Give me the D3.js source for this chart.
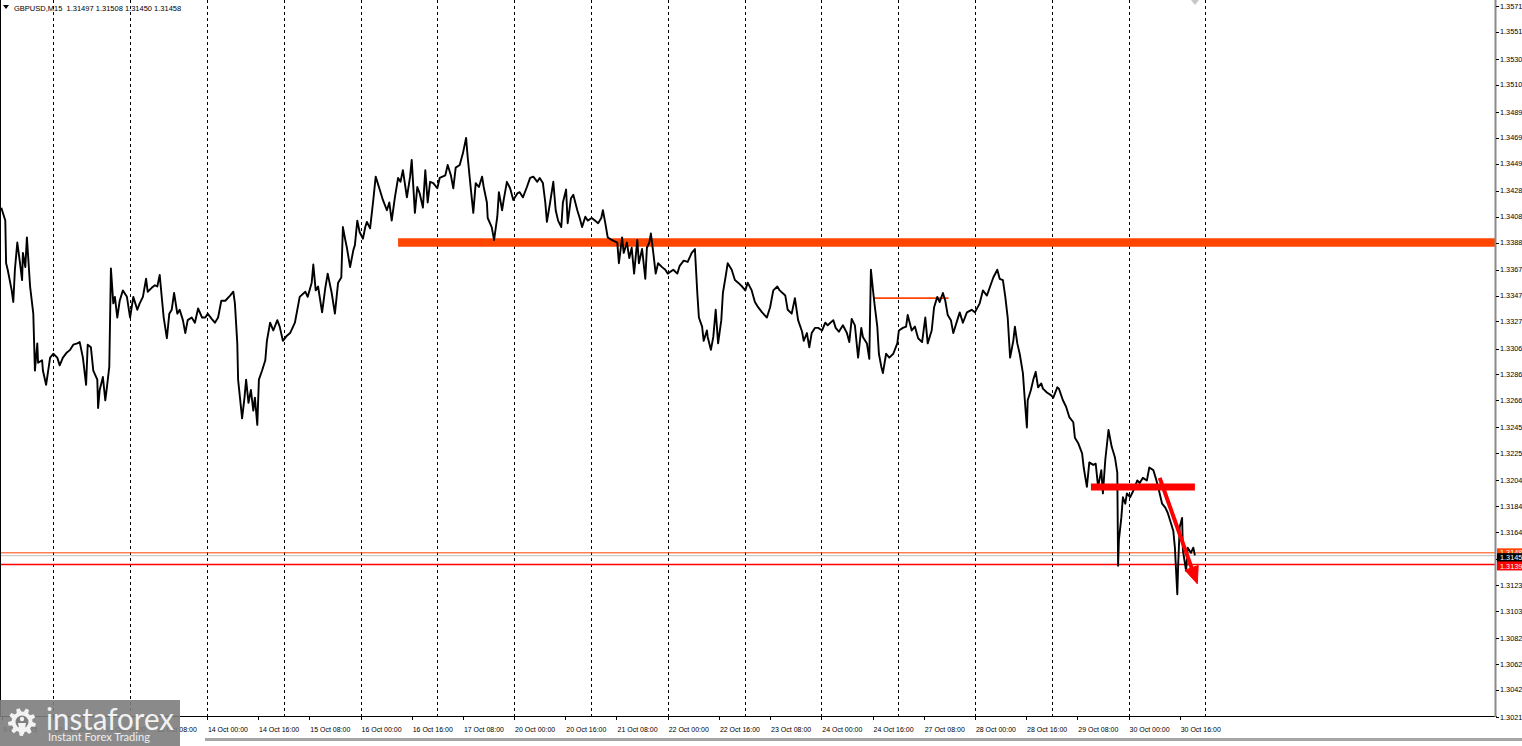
<!DOCTYPE html>
<html><head><meta charset="utf-8">
<script src="https://cdn.jsdelivr.net/npm/d3@7"></script>
<style>
html,body{margin:0;padding:0;background:#fff;overflow:hidden}
svg{display:block;font-family:"Liberation Sans",Arial,sans-serif}
</style>
</head><body>
<svg id="chart" width="1522" height="746"></svg>
<script>
// ---------- DATA ----------
const headerText = "GBPUSD,M15  1.31497 1.31508 1.31450 1.31458";

const yTickLabels = ["1.3571","1.3551","1.3530","1.3510","1.3489","1.3469","1.3449","1.3428","1.3408","1.3388",
  "1.3367","1.3347","1.3327","1.3306","1.3286","1.3266","1.3245","1.3225","1.3204","1.3184",
  "1.3164","1.3143","1.3123","1.3103","1.3082","1.3062","1.3042","1.3021"];

const xTickBars = [2,66,130,194,258,322,386,450,514,578,642,706,770,834,898,962,1026,1090,1154,1218,1282,1346,1410,1474];
const xTickLabels = ["9 Oct 2025","10 Oct 00:00","10 Oct 16:00","13 Oct 08:00","14 Oct 00:00","14 Oct 16:00",
  "15 Oct 08:00","16 Oct 00:00","16 Oct 16:00","17 Oct 08:00","20 Oct 00:00","20 Oct 16:00","21 Oct 08:00",
  "22 Oct 00:00","22 Oct 16:00","23 Oct 08:00","24 Oct 00:00","24 Oct 16:00","27 Oct 08:00","28 Oct 00:00",
  "28 Oct 16:00","29 Oct 08:00","30 Oct 00:00","30 Oct 16:00"];

const dayBoundaryBars = [66,162,258,354,450,546,642,738,834,930,1026,1122,1218,1314,1410,1506];

// [M15 bar index, close price]
const closeSeries = [
[1,1.3415],[6,1.3405],[7,1.3372],[9,1.3367],[14,1.3351],[16,1.3342],[18,1.3367],[21,1.3388],[24,1.3374],[27,1.3359],
[28,1.3380],[31,1.3369],[33,1.3392],[37,1.3354],[41,1.3333],[43,1.3289],[46,1.3310],[47,1.3295],[52,1.3297],[53,1.3289],
[57,1.3278],[62,1.3299],[66,1.3302],[71,1.3299],[74,1.3293],[78,1.3299],[83,1.3303],[87,1.3305],[91,1.3309],[96,1.3310],
[99,1.3311],[103,1.3299],[107,1.3278],[109,1.3309],[113,1.3307],[116,1.3289],[121,1.3282],[122,1.3260],[124,1.3274],[128,1.3284],
[131,1.3266],[133,1.3276],[136,1.3292],[138,1.3368],[141,1.3341],[143,1.3346],[146,1.3330],[149,1.3343],[153,1.3351],[158,1.3346],
[162,1.3330],[166,1.3346],[171,1.3336],[174,1.3341],[178,1.3346],[182,1.3360],[184,1.3350],[189,1.3353],[193,1.3355],[196,1.3354],
[199,1.3363],[202,1.3343],[204,1.3330],[208,1.3314],[211,1.3333],[214,1.3336],[217,1.3349],[221,1.3333],[224,1.3336],[228,1.3328],
[231,1.3318],[234,1.3328],[239,1.3330],[243,1.3326],[247,1.3337],[252,1.3330],[256,1.3330],[259,1.3333],[264,1.3329],[268,1.3326],
[272,1.3330],[276,1.3343],[281,1.3343],[287,1.3347],[291,1.3350],[293,1.3341],[296,1.3310],[297,1.3282],[302,1.3252],[305,1.3268],
[307,1.3282],[310,1.3264],[313,1.3274],[316,1.3258],[318,1.3268],[321,1.3247],[323,1.3282],[327,1.3289],[331,1.3297],[333,1.3312],
[337,1.3326],[341,1.3320],[346,1.3328],[349,1.3323],[353,1.3312],[358,1.3316],[362,1.3318],[368,1.3326],[374,1.3346],[381,1.3350],
[384,1.3346],[389,1.3357],[391,1.3371],[394,1.3351],[397,1.3354],[402,1.3334],[406,1.3353],[409,1.3364],[414,1.3349],[418,1.3333],
[422,1.3357],[426,1.3361],[428,1.3400],[431,1.3390],[433,1.3384],[437,1.3369],[441,1.3382],[443,1.3386],[446,1.3405],[449,1.3396],
[453,1.3391],[456,1.3400],[458,1.3404],[462,1.3399],[466,1.3421],[469,1.3439],[474,1.3429],[478,1.3421],[483,1.3413],[486,1.3419],
[489,1.3405],[493,1.3423],[497,1.3438],[500,1.3435],[503,1.3444],[508,1.3423],[512,1.3439],[514,1.3452],[518,1.3411],[521,1.3431],
[524,1.3426],[528,1.3415],[531,1.3444],[534,1.3419],[537,1.3435],[541,1.3434],[546,1.3430],[549,1.3438],[556,1.3440],[559,1.3448],
[563,1.3440],[566,1.3430],[569,1.3446],[574,1.3448],[578,1.3457],[582,1.3469],[584,1.3454],[588,1.3429],[591,1.3411],[594,1.3434],
[598,1.3431],[602,1.3439],[604,1.3431],[608,1.3419],[609,1.3407],[614,1.3400],[617,1.3390],[621,1.3408],[623,1.3427],[627,1.3413],
[629,1.3421],[633,1.3435],[637,1.3430],[641,1.3421],[646,1.3426],[649,1.3427],[653,1.3423],[658,1.3431],[662,1.3438],[666,1.3439],
[671,1.3435],[674,1.3438],[678,1.3434],[681,1.3419],[683,1.3404],[687,1.3419],[691,1.3435],[694,1.3413],[697,1.3405],[701,1.3400],
[703,1.3419],[707,1.3429],[709,1.3403],[713,1.3422],[716,1.3425],[721,1.3413],[724,1.3407],[727,1.3400],[731,1.3408],[734,1.3405],
[739,1.3407],[743,1.3405],[747,1.3403],[751,1.3407],[753,1.3413],[756,1.3403],[759,1.3392],[764,1.3390],[771,1.3388],[773,1.3372],
[777,1.3392],[779,1.3380],[783,1.3388],[786,1.3376],[789,1.3384],[792,1.3364],[796,1.3390],[798,1.3372],[802,1.3383],[806,1.3360],
[808,1.3384],[811,1.3388],[813,1.3395],[816,1.3380],[819,1.3364],[822,1.3372],[827,1.3369],[831,1.3367],[834,1.3364],[841,1.3367],
[846,1.3364],[849,1.3370],[854,1.3374],[859,1.3373],[864,1.3380],[868,1.3383],[871,1.3349],[873,1.3330],[877,1.3323],[879,1.3312],
[883,1.3320],[884,1.3315],[888,1.3305],[891,1.3315],[894,1.3336],[897,1.3310],[901,1.3328],[903,1.3349],[907,1.3364],[909,1.3372],
[914,1.3367],[918,1.3359],[922,1.3357],[927,1.3354],[931,1.3351],[934,1.3357],[939,1.3351],[943,1.3342],[947,1.3338],[952,1.3334],
[958,1.3330],[962,1.3338],[966,1.3351],[971,1.3354],[974,1.3351],[981,1.3347],[984,1.3336],[989,1.3333],[993,1.3345],[997,1.3328],
[1002,1.3319],[1004,1.3312],[1008,1.3318],[1011,1.3307],[1014,1.3318],[1018,1.3322],[1022,1.3322],[1027,1.3320],[1031,1.3326],[1034,1.3324],
[1041,1.3328],[1044,1.3322],[1048,1.3319],[1053,1.3324],[1058,1.3318],[1061,1.3311],[1064,1.3329],[1068,1.3324],[1072,1.3299],[1076,1.3322],
[1078,1.3315],[1083,1.3310],[1086,1.3298],[1088,1.3367],[1091,1.3349],[1093,1.3338],[1096,1.3323],[1098,1.3302],[1101,1.3292],[1103,1.3287],
[1107,1.3302],[1111,1.3299],[1116,1.3302],[1121,1.3310],[1123,1.3320],[1128,1.3322],[1132,1.3323],[1134,1.3332],[1139,1.3320],[1143,1.3323],
[1147,1.3314],[1152,1.3311],[1156,1.3330],[1159,1.3310],[1164,1.3320],[1167,1.3338],[1171,1.3346],[1174,1.3342],[1178,1.3349],[1181,1.3343],
[1184,1.3332],[1188,1.3328],[1191,1.3318],[1196,1.3328],[1199,1.3334],[1203,1.3326],[1208,1.3334],[1214,1.3336],[1218,1.3334],[1224,1.3341],
[1228,1.3351],[1233,1.3347],[1237,1.3354],[1241,1.3361],[1246,1.3367],[1249,1.3360],[1253,1.3359],[1256,1.3346],[1259,1.3330],[1262,1.3299],
[1266,1.3312],[1268,1.3323],[1271,1.3310],[1274,1.3302],[1278,1.3287],[1281,1.3261],[1283,1.3245],[1284,1.3266],[1288,1.3274],[1291,1.3282],
[1294,1.3288],[1297,1.3276],[1301,1.3279],[1303,1.3275],[1308,1.3272],[1313,1.3270],[1316,1.3268],[1321,1.3276],[1323,1.3275],[1328,1.3266],
[1332,1.3261],[1336,1.3253],[1341,1.3249],[1343,1.3237],[1347,1.3233],[1352,1.3225],[1354,1.3214],[1358,1.3199],[1361,1.3218],[1366,1.3216],
[1369,1.3217],[1372,1.3199],[1376,1.3212],[1378,1.3194],[1381,1.3220],[1385,1.3243],[1389,1.3230],[1393,1.3222],[1396,1.3210],[1397,1.3138],
[1398,1.3158],[1401,1.3175],[1403,1.3191],[1406,1.3186],[1408,1.3194],[1412,1.3191],[1416,1.3196],[1421,1.3204],[1424,1.3202],[1428,1.3206],
[1433,1.3204],[1436,1.3214],[1441,1.3212],[1444,1.3206],[1447,1.3199],[1452,1.3186],[1456,1.3183],[1459,1.3179],[1463,1.3171],[1466,1.3165],
[1468,1.3152],[1471,1.3116],[1472,1.3137],[1474,1.3168],[1477,1.3175],[1478,1.3150],[1482,1.3134],[1484,1.3152],[1488,1.3148],[1491,1.3152],
[1493,1.3146]
];

// horizontal levels: orange level, bid, red level
const levelPrices = [1.3148, 1.31458, 1.3139];
const levelTagLabels = ["1.3148", "1.3145", "1.3139"];

// drawn objects: [fromBar, toBar, price]
const resistanceZone = [497, 1870, 1.3388];
const supportZone = [1363, 1493, 1.3199];
const thinLevel = [1091, 1185, 1.3345];
// arrow: [bar, price] start and end
const arrowStart = [1449, 1.3206];
const arrowEnd = [1496, 1.3124];

// ---------- LAYOUT ----------
const W = 1522, H = 746;
const plotRight = 1496, plotBottom = 716;
const svg = d3.select("#chart");
svg.append("rect").attr("width", W).attr("height", H).attr("fill", "#fff");

const x = d3.scaleLinear().domain([0, 1870]).range([0.5, 1496.5]);
const y = d3.scaleLinear().domain([1.3021, 1.3571]).range([717, 6]);

svg.append("defs").append("clipPath").attr("id", "plotClip")
  .append("rect").attr("x", 0).attr("y", 0).attr("width", plotRight).attr("height", plotBottom);

const plot = svg.append("g").attr("clip-path", "url(#plotClip)");

// vertical dotted grid at day boundaries
plot.selectAll("line.grid").data(dayBoundaryBars).enter().append("line")
  .attr("x1", d => Math.round(x(d)) + 0.5).attr("x2", d => Math.round(x(d)) + 0.5)
  .attr("y1", 0).attr("y2", plotBottom)
  .attr("stroke", "#000").attr("stroke-width", 1).attr("stroke-dasharray", "3,3");

// horizontal full width levels
const levelColors = ["#FF4500", "#C0C0C0", "#FF0000"];
const levelWidths = [1, 1, 1.5];
plot.selectAll("line.level").data(levelPrices).enter().append("line")
  .attr("x1", 0).attr("x2", plotRight)
  .attr("y1", d => y(d)).attr("y2", d => y(d))
  .attr("stroke", (d, i) => levelColors[i]).attr("stroke-width", (d, i) => levelWidths[i]);

// resistance zone band
plot.append("line")
  .attr("x1", x(resistanceZone[0])).attr("x2", x(resistanceZone[1]))
  .attr("y1", y(resistanceZone[2])).attr("y2", y(resistanceZone[2]))
  .attr("stroke", "#FF4500").attr("stroke-width", 8.5);

// thin level
plot.append("line")
  .attr("x1", x(thinLevel[0])).attr("x2", x(thinLevel[1]))
  .attr("y1", y(thinLevel[2])).attr("y2", y(thinLevel[2]))
  .attr("stroke", "#FF4500").attr("stroke-width", 1.6);

// price line
const line = d3.line().x(d => x(d[0])).y(d => y(d[1]));
plot.append("path").datum(closeSeries).attr("d", line)
  .attr("fill", "none").attr("stroke", "#000").attr("stroke-width", 1.9).attr("stroke-linejoin", "round");

// support zone band
plot.append("line")
  .attr("x1", x(supportZone[0])).attr("x2", x(supportZone[1]))
  .attr("y1", y(supportZone[2])).attr("y2", y(supportZone[2]))
  .attr("stroke", "#FF0000").attr("stroke-width", 7);

// arrow
{
  const x1 = x(arrowStart[0]), y1 = y(arrowStart[1]);
  const x2 = x(arrowEnd[0]), y2 = y(arrowEnd[1]);
  const ang = Math.atan2(y2 - y1, x2 - x1);
  const headLen = 17, headW = 7;
  const bx = x2 - headLen * Math.cos(ang), by = y2 - headLen * Math.sin(ang);
  plot.append("line").attr("x1", x1).attr("y1", y1).attr("x2", bx).attr("y2", by)
    .attr("stroke", "#FF0000").attr("stroke-width", 4);
  const px = -Math.sin(ang), py = Math.cos(ang);
  plot.append("path")
    .attr("d", `M${x2},${y2}L${bx + px * headW},${by + py * headW}L${bx - px * headW},${by - py * headW}Z`)
    .attr("fill", "#FF0000").attr("stroke", "#FF0000").attr("stroke-width", 1);
}

// ---------- AXES ----------
svg.append("line").attr("x1", 0.5).attr("x2", 0.5).attr("y1", 0).attr("y2", plotBottom)
  .attr("stroke", "#000").attr("stroke-width", 1);
svg.append("line").attr("x1", 0).attr("x2", plotRight + 1).attr("y1", plotBottom + 0.5).attr("y2", plotBottom + 0.5)
  .attr("stroke", "#000").attr("stroke-width", 1);
svg.append("line").attr("x1", plotRight - 0.5).attr("x2", plotRight - 0.5).attr("y1", 0).attr("y2", plotBottom + 1)
  .attr("stroke", "#8a8a8a").attr("stroke-width", 2);

const yAx = svg.append("g");
yAx.selectAll("line").data(yTickLabels).enter().append("line")
  .attr("x1", plotRight).attr("x2", plotRight + 3)
  .attr("y1", d => Math.round(y(+d)) + 0.5).attr("y2", d => Math.round(y(+d)) + 0.5)
  .attr("stroke", "#000");
yAx.selectAll("text").data(yTickLabels).enter().append("text")
  .attr("x", plotRight + 4).attr("y", d => y(+d)).attr("dy", "0.35em")
  .attr("font-size", "7.3px").attr("fill", "#000").text(d => d);

const xAx = svg.append("g");
xAx.selectAll("line").data(xTickBars).enter().append("line")
  .attr("x1", d => Math.round(x(d)) + 0.5).attr("x2", d => Math.round(x(d)) + 0.5)
  .attr("y1", plotBottom).attr("y2", plotBottom + 4).attr("stroke", "#000");
xAx.selectAll("text").data(xTickLabels).enter().append("text")
  .attr("x", (d, i) => x(xTickBars[i]) + 1).attr("y", 732)
  .attr("font-size", "7px").attr("fill", "#000").text(d => d);

const tagColors = ["#FF4500", "#000000", "#FF0000"];
const tags = svg.append("g");
levelPrices.forEach((p, i) => {
  const cy = y(p) + (i === 1 ? 2 : (i === 2 ? 1.5 : 0));
  tags.append("rect").attr("x", plotRight + 1).attr("y", cy - 4.5).attr("width", 26).attr("height", 9)
    .attr("fill", tagColors[i]);
  tags.append("text").attr("x", plotRight + 4).attr("y", cy).attr("dy", "0.35em")
    .attr("font-size", "7.3px").attr("fill", "#fff").text(levelTagLabels[i]);
});

svg.append("rect").attr("x", 205).attr("y", 738).attr("width", W - 205).attr("height", 3).attr("fill", "#a6a6a6");

svg.append("path").attr("d", "M3,5L9,5L6,9Z").attr("fill", "#000");
svg.append("text").attr("x", 14).attr("y", 11).attr("font-size", "7.5px").attr("fill", "#000")
  .attr("xml:space", "preserve").style("white-space", "pre").text(headerText);

svg.append("path").attr("d", "M1191,0L1199,0L1195,5Z").attr("fill", "#c8c8c8");

// ---------- LOGO ----------
const logo = svg.append("g");
logo.append("rect").attr("x", 0).attr("y", 700).attr("width", 180).attr("height", 46)
  .attr("fill", "#7d7d7d").attr("opacity", 0.9);
{
  const cx = 22, cy = 722, rO = 14, rI = 10.5, n = 9;
  let d = "";
  for (let k = 0; k < n; k++) {
    const a0 = (k / n) * 2 * Math.PI, step = 2 * Math.PI / n;
    const pts = [[a0, rI], [a0 + step * 0.15, rO], [a0 + step * 0.5, rO], [a0 + step * 0.65, rI]];
    pts.forEach((p, j) => {
      const px = cx + p[1] * Math.cos(p[0]), py = cy + p[1] * Math.sin(p[0]);
      d += (k === 0 && j === 0 ? "M" : "L") + px.toFixed(2) + "," + py.toFixed(2);
    });
  }
  d += "Z";
  logo.append("path").attr("d", d).attr("fill", "#f2f2f2");
  logo.append("circle").attr("cx", cx).attr("cy", cy).attr("r", 6.5).attr("fill", "#7d7d7d");
  logo.append("circle").attr("cx", cx).attr("cy", cy - 3).attr("r", 2.2).attr("fill", "#f2f2f2");
  logo.append("path").attr("d", `M${cx - 4},${cy + 1}L${cx + 4},${cy + 1}L${cx + 2},${cy + 12}L${cx - 2},${cy + 12}Z`).attr("fill", "#f2f2f2");
}
logo.append("text").attr("x", 46).attr("y", 730).attr("font-family", "Lato, 'Open Sans', sans-serif")
  .attr("font-size", "31px").attr("fill", "#f2f2f2").attr("textLength", 128).attr("lengthAdjust", "spacingAndGlyphs")
  .text("instaforex");
logo.append("text").attr("x", 48).attr("y", 741).attr("font-family", "Lato, 'Open Sans', sans-serif")
  .attr("font-size", "12px").attr("fill", "#eeeeee").attr("textLength", 102).attr("lengthAdjust", "spacingAndGlyphs")
  .text("Instant Forex Trading");
</script>
</body></html>
